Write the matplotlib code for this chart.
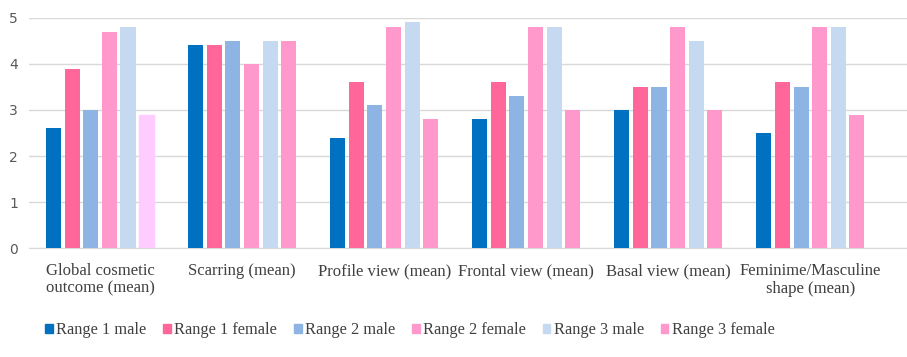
import matplotlib
matplotlib.use("Agg")
import matplotlib.pyplot as plt
import numpy as np
from matplotlib.patches import Patch

categories = ["Global cosmetic\noutcome (mean)", "Scarring (mean)", "Profile view (mean)",
              "Frontal view (mean)", "Basal view (mean)", "Feminime/Masculine\nshape (mean)"]
series_names = ["Range 1 male", "Range 1 female", "Range 2 male", "Range 2 female",
                "Range 3 male", "Range 3 female"]
range1_male = [2.6, 4.4, 2.4, 2.8, 3.0, 2.5]
range1_female = [3.9, 4.4, 3.6, 3.6, 3.5, 3.6]
range2_male = [3.0, 4.5, 3.1, 3.3, 3.5, 3.5]
range2_female = [4.7, 4.0, 4.8, 4.8, 4.8, 4.8]
range3_male = [4.8, 4.5, 4.9, 4.8, 4.5, 4.8]
range3_female = [2.9, 4.5, 2.8, 3.0, 3.0, 2.9]
yticks = [0, 1, 2, 3, 4, 5]

series = [range1_male, range1_female, range2_male, range2_female, range3_male, range3_female]
colors = ["#0070C0", "#FF6699", "#8EB4E3", "#FF99CC", "#C5D9F1", "#FF99CC"]

fig = plt.figure(figsize=(9.07, 3.57), dpi=100)
ax = fig.add_axes([0.032, 0.305, 0.968, 0.645])

x = np.arange(len(categories))
step = 0.131
width = 0.106
for i, (vals, c) in enumerate(zip(series, colors)):
    bars = ax.bar(x + (i - 2.5) * step, vals, width=width, color=c, zorder=3)
    if i == 5:
        bars[0].set_color("#FFCCFF")

ax.set_xlim(-0.5, len(categories) - 0.32)
ax.set_ylim(0, 5)
ax.set_yticks(yticks)
ax.yaxis.grid(True, color="#D9D9D9", linewidth=1, zorder=0)
for s in ["top", "right", "left"]:
    ax.spines[s].set_visible(False)
ax.spines["bottom"].set_color("#D9D9D9")
ax.tick_params(axis="both", length=0)
ax.tick_params(axis="y", labelsize=10, colors="#595959", pad=8)
ax.set_xticks(x)
ax.set_xticklabels(categories, family="Liberation Serif", fontsize=12, color="#404040",
                   linespacing=1.1)
ax.tick_params(axis="x", pad=11)

handles = [Patch(color=c) for c in colors]
leg = fig.legend(handles, series_names, loc="center", bbox_to_anchor=(0.452, 0.075), ncol=6,
                 frameon=False, prop={"family": "Liberation Serif", "size": 11.8},
                 handlelength=0.45, handleheight=0.45, handletextpad=0.2, columnspacing=1.05)
for t in leg.get_texts():
    t.set_color("#404040")

fig.savefig("out.png", dpi=100)
